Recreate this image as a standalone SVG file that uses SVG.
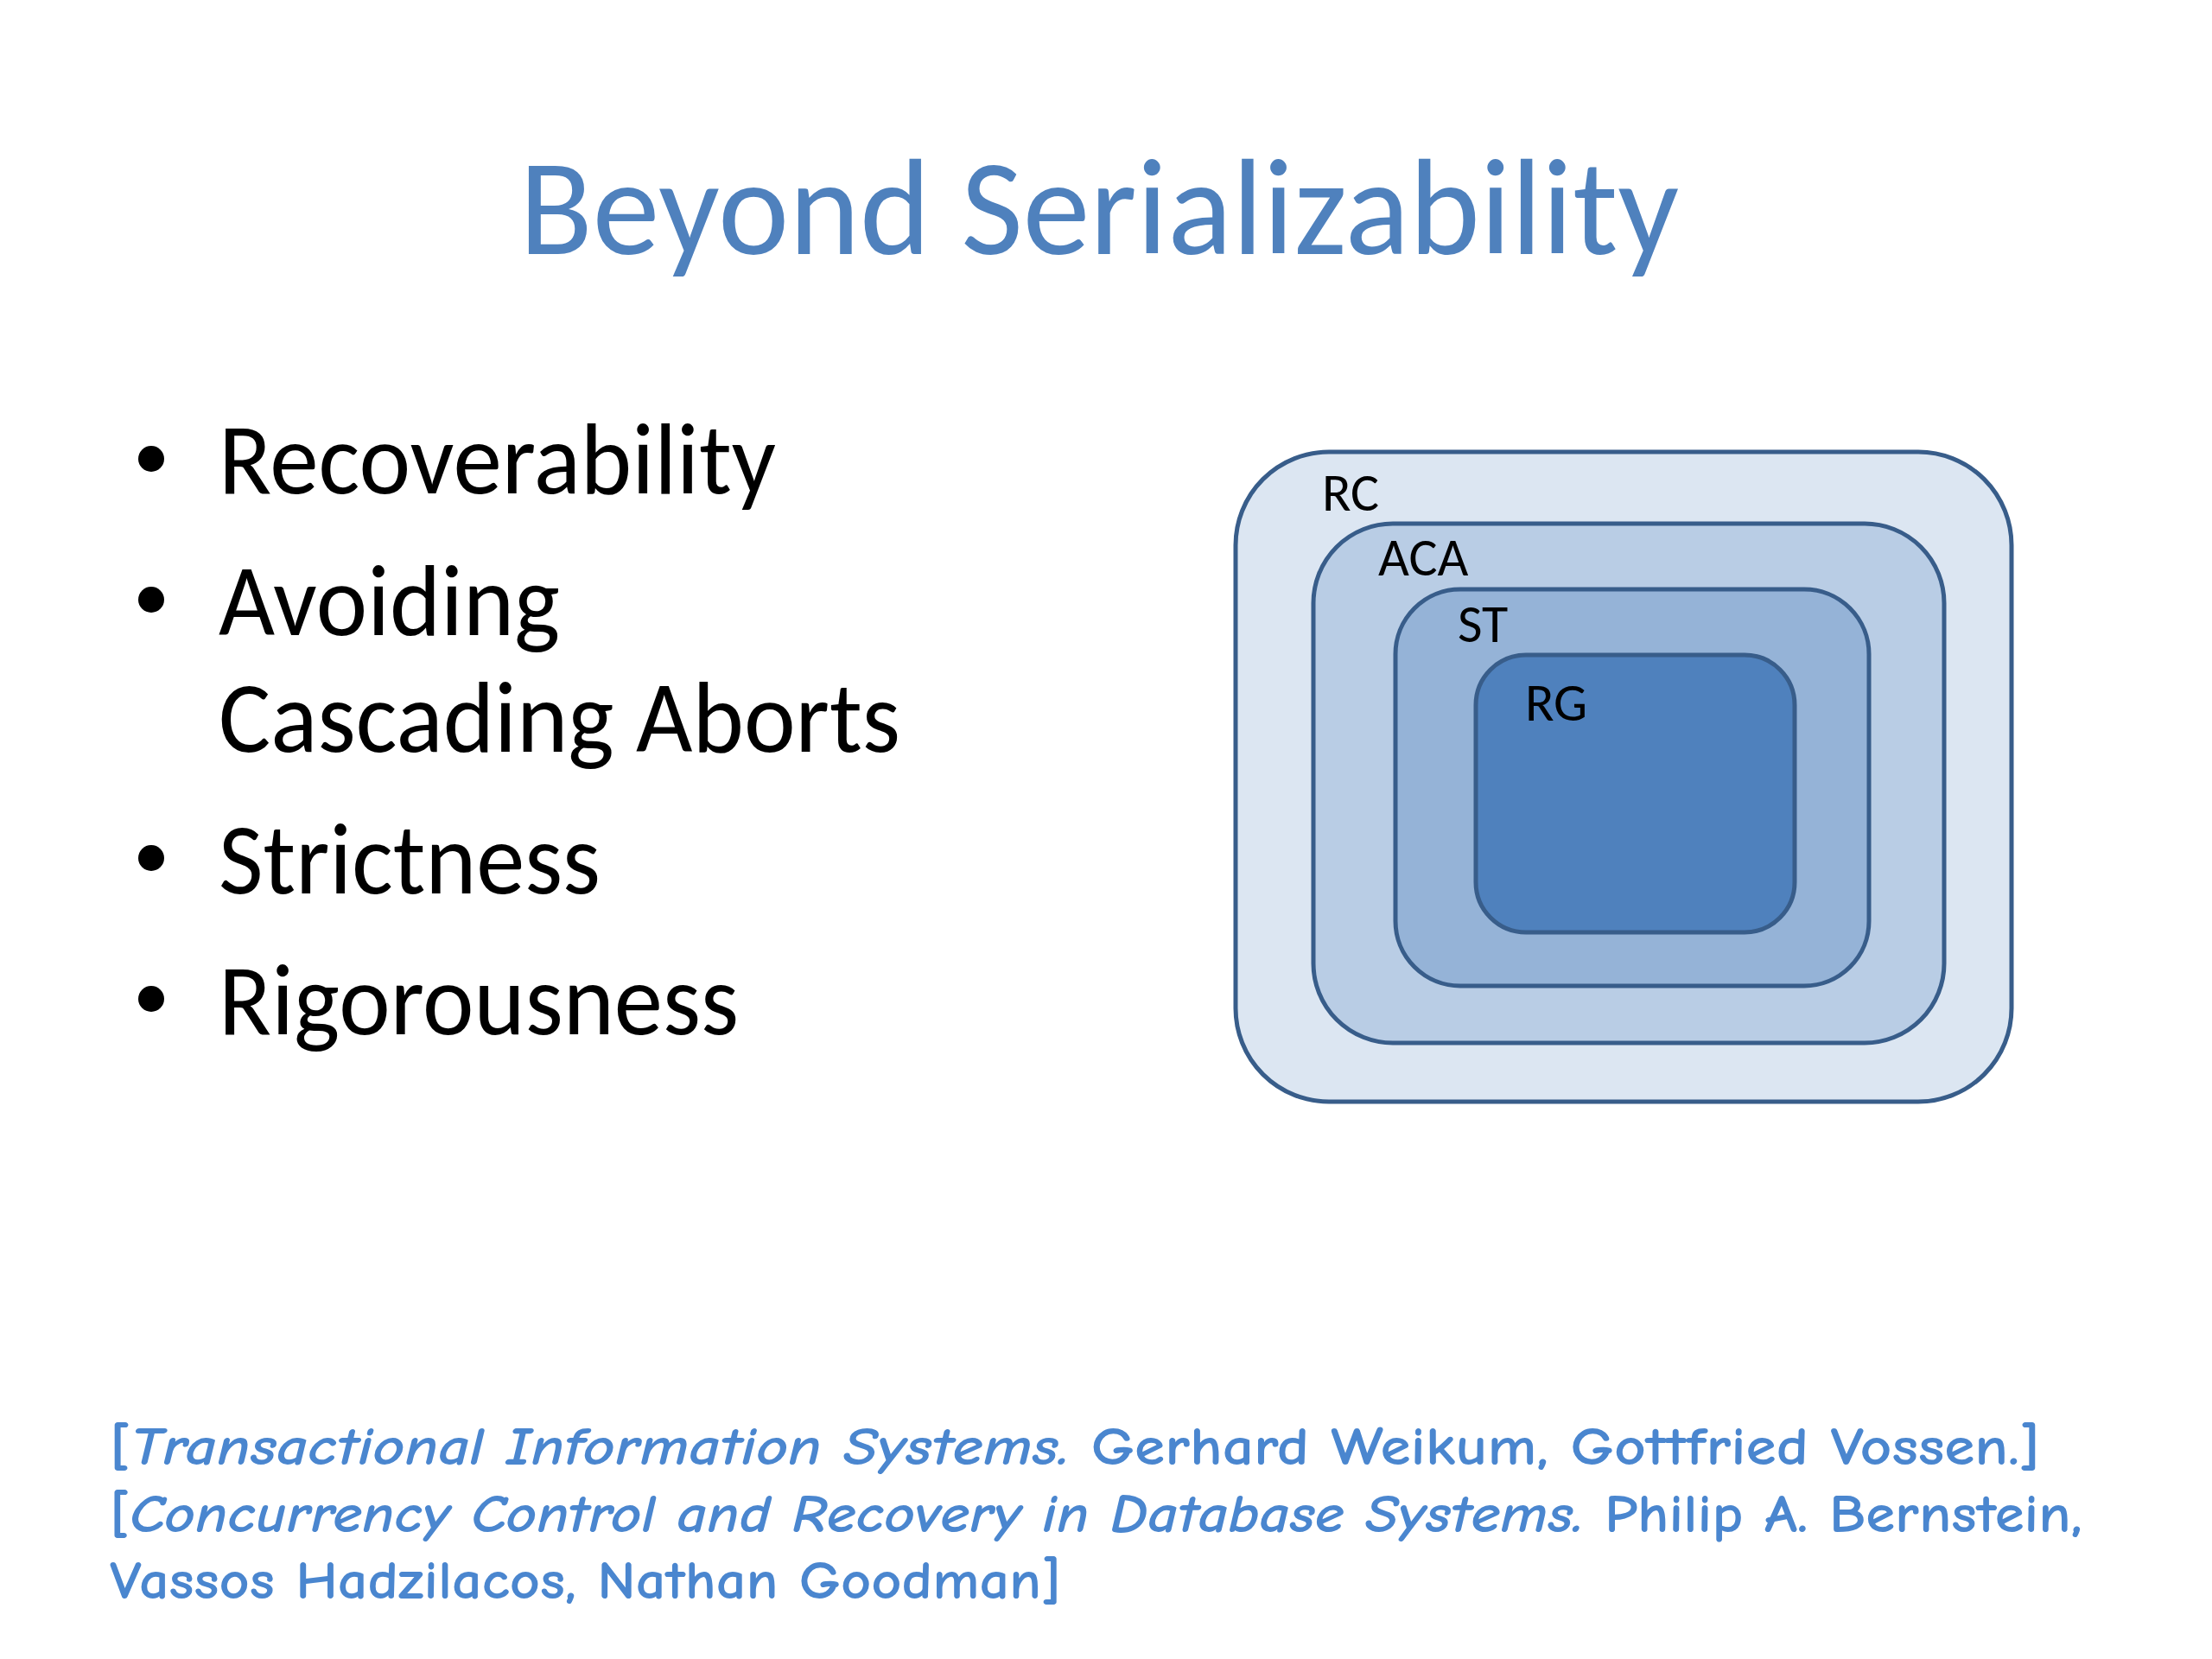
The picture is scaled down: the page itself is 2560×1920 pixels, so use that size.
<svg xmlns="http://www.w3.org/2000/svg" width="2560" height="1920" viewBox="0 0 2560 1920">
<style>
.title{font-family:Carlito,Calibri,Lato,"Open Sans",sans-serif;font-size:158px;fill:#4F81BD}
.bul{font-family:Carlito,Calibri,Lato,"Open Sans",sans-serif;font-size:118px;fill:#000}
.lbl{font-family:Carlito,Calibri,Lato,"Open Sans",sans-serif;font-size:62px;fill:#000}
.ref{font-family:"Comic Sans MS","Comic Neue","DejaVu Sans",sans-serif;font-size:62px;font-weight:bold;fill:#4A86CF}
.box{stroke:#385D8A;stroke-width:5}
</style>
<rect width="2560" height="1920" fill="#fff"/>
<g id="title"><text class="title" x="601" y="294" textLength="1342" lengthAdjust="spacingAndGlyphs">Beyond Serializability</text></g>
<g id="bullets">
<circle cx="175" cy="531" r="15" fill="#000"/>
<text class="bul" x="253" y="571" textLength="645" lengthAdjust="spacingAndGlyphs">Recoverability</text>
<circle cx="175" cy="694" r="15" fill="#000"/>
<text class="bul" x="253" y="735" textLength="395" lengthAdjust="spacingAndGlyphs">Avoiding</text>
<text class="bul" x="253" y="870" textLength="789" lengthAdjust="spacingAndGlyphs">Cascading Aborts</text>
<circle cx="175" cy="993" r="15" fill="#000"/>
<text class="bul" x="253" y="1034" textLength="442" lengthAdjust="spacingAndGlyphs">Strictness</text>
<circle cx="175" cy="1156" r="15" fill="#000"/>
<text class="bul" x="253" y="1197" textLength="602" lengthAdjust="spacingAndGlyphs">Rigorousness</text>
</g>
<g id="RC"><rect class="box" x="1430" y="523" width="898" height="752" rx="108" fill="#DCE6F2"/><text class="lbl" x="1530" y="591">RC</text></g>
<g id="ACA"><rect class="box" x="1520" y="606" width="730" height="601" rx="92" fill="#B9CDE5"/><text class="lbl" x="1595" y="666">ACA</text></g>
<g id="ST"><rect class="box" x="1615" y="682" width="548" height="459" rx="75" fill="#95B3D7"/><text class="lbl" x="1687" y="743">ST</text></g>
<g id="RG"><rect class="box" x="1708" y="758" width="369" height="321" rx="58" fill="#4F81BD"/><text class="lbl" x="1765" y="834">RG</text></g>
<g id="connectors"/>
<g id="references">
<text class="ref" x="127" y="1695" textLength="2234" lengthAdjust="spacingAndGlyphs">[<tspan font-style="italic">Transactional Information Systems.</tspan>  Gerhard Weikum, Gottfried Vossen.]</text>
<text class="ref" x="127" y="1773" textLength="2283" lengthAdjust="spacingAndGlyphs">[<tspan font-style="italic">Concurrency Control and Recovery in Database Systems.</tspan> Philip A. Bernstein,</text>
<text class="ref" x="127" y="1850" textLength="1101" lengthAdjust="spacingAndGlyphs">Vassos Hadzilacos, Nathan Goodman]</text>
</g>
</svg>
